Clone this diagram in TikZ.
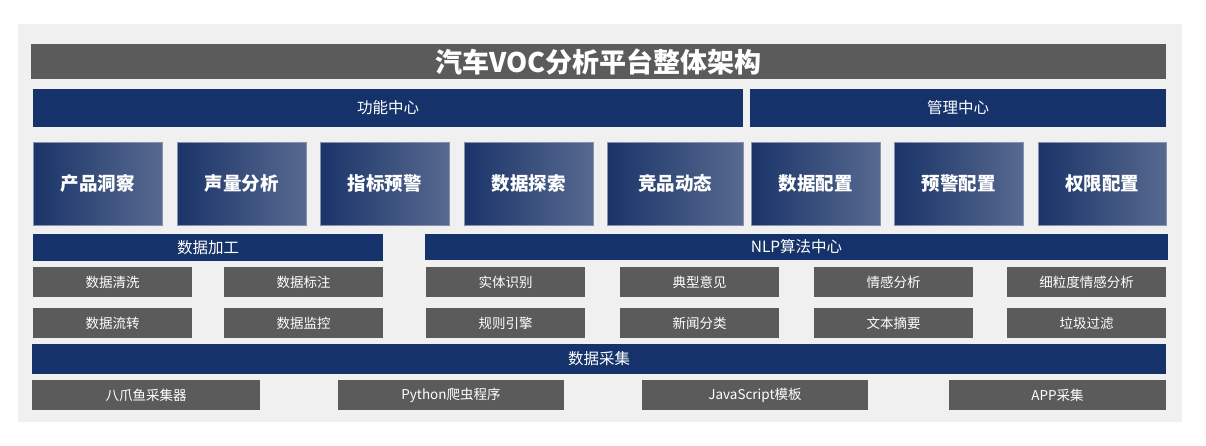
\documentclass[tikz,border=0pt]{standalone}
\usepackage{fontspec}
\setmainfont{Noto Sans CJK SC}
\definecolor{navy}{HTML}{15336A}
\definecolor{dgray}{HTML}{5B5B5B}
\definecolor{bggray}{HTML}{F0F0F0}
\definecolor{gradL}{HTML}{1A3469}
\definecolor{gradR}{HTML}{57698F}
\definecolor{gradB}{HTML}{8593B0}
\tikzset{
  base/.style={anchor=north west, inner sep=0pt, outer sep=0pt, text=white, align=center},
  titlebar/.style={base, fill=dgray, font=\fontsize{27}{31}\selectfont\bfseries},
  header/.style={base, fill=navy, font=\fontsize{15.5}{18}\selectfont},
  funcbox/.style={base, left color=gradL, right color=gradR, draw=gradB, line width=0.6pt, font=\fontsize{18.5}{22}\selectfont\bfseries},
  graybox/.style={base, fill=dgray, font=\fontsize{13.5}{16}\selectfont},
}
\begin{document}
\begin{tikzpicture}[x=1pt,y=-1pt]
\useasboundingbox (0,0) rectangle (1206,445);
\fill[white] (0,0) rectangle (1206,445);
\fill[bggray] (18,24) rectangle (1182,422);
% title
\node[titlebar, minimum width=1135pt, minimum height=35pt] (title) at (31,44) {汽车VOC分析平台整体架构};
% centres
\node[header, minimum width=710pt, minimum height=38pt] (gn) at (33,89) {功能中心};
\node[header, minimum width=416pt, minimum height=38pt] (gl) at (750,89) {管理中心};
% function boxes
\node[funcbox, minimum width=129pt, minimum height=83pt] (f1) at (33,142) {产品洞察};
\node[funcbox, minimum width=129pt, minimum height=83pt] (f2) at (177,142) {声量分析};
\node[funcbox, minimum width=129pt, minimum height=83pt] (f3) at (320,142) {指标预警};
\node[funcbox, minimum width=129pt, minimum height=83pt] (f4) at (464,142) {数据探索};
\node[funcbox, minimum width=136pt, minimum height=83pt] (f5) at (607,142) {竞品动态};
\node[funcbox, minimum width=129pt, minimum height=83pt] (f6) at (751,142) {数据配置};
\node[funcbox, minimum width=129pt, minimum height=83pt] (f7) at (894,142) {预警配置};
\node[funcbox, minimum width=128pt, minimum height=83pt] (f8) at (1038,142) {权限配置};
% processing / NLP headers
\node[header, minimum width=350pt, minimum height=27pt] (jg) at (33,234) {数据加工};
\node[header, minimum width=743pt, minimum height=26pt] (nlp) at (425,234) {NLP算法中心};
% row 1
\node[graybox, minimum width=159pt, minimum height=30pt] (a1) at (33,267) {数据清洗};
\node[graybox, minimum width=159pt, minimum height=30pt] (a2) at (224,267) {数据标注};
\node[graybox, minimum width=159pt, minimum height=30pt] (a3) at (426,267) {实体识别};
\node[graybox, minimum width=159pt, minimum height=30pt] (a4) at (620,267) {典型意见};
\node[graybox, minimum width=159pt, minimum height=30pt] (a5) at (814,267) {情感分析};
\node[graybox, minimum width=159pt, minimum height=30pt] (a6) at (1007,267) {细粒度情感分析};
% row 2
\node[graybox, minimum width=159pt, minimum height=30pt] (b1) at (33,308) {数据流转};
\node[graybox, minimum width=159pt, minimum height=30pt] (b2) at (224,308) {数据监控};
\node[graybox, minimum width=159pt, minimum height=30pt] (b3) at (426,308) {规则引擎};
\node[graybox, minimum width=159pt, minimum height=30pt] (b4) at (620,308) {新闻分类};
\node[graybox, minimum width=159pt, minimum height=30pt] (b5) at (814,308) {文本摘要};
\node[graybox, minimum width=159pt, minimum height=30pt] (b6) at (1007,308) {垃圾过滤};
% collection
\node[header, minimum width=1134pt, minimum height=30pt] (cj) at (32,344) {数据采集};
\node[graybox, minimum width=228pt, minimum height=30pt] (c1) at (32,380) {八爪鱼采集器};
\node[graybox, minimum width=226pt, minimum height=30pt] (c2) at (338,380) {Python爬虫程序};
\node[graybox, minimum width=226pt, minimum height=30pt] (c3) at (642,380) {JavaScript模板};
\node[graybox, minimum width=217pt, minimum height=30pt] (c4) at (949,380) {APP采集};
\end{tikzpicture}
\end{document}
